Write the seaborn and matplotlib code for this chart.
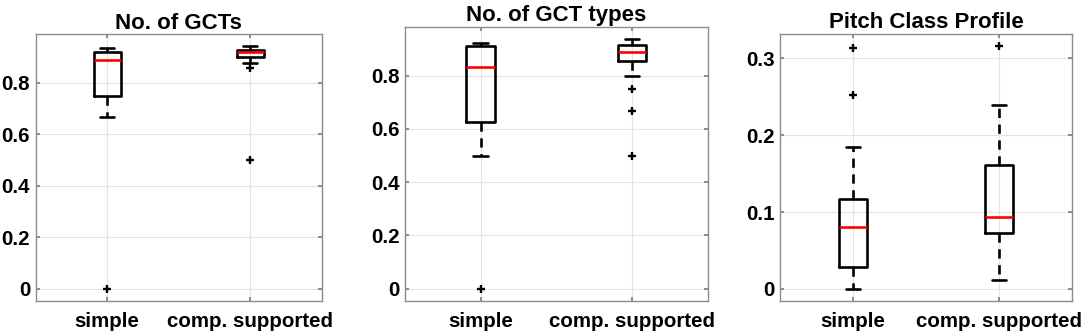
import numpy as np
import pandas as pd
import matplotlib
matplotlib.use('Agg')
import matplotlib.pyplot as plt
import seaborn as sns
from matplotlib.ticker import FormatStrFormatter

# Werte (je Gruppe)
gruppen = ['simple', 'comp. supported']
titel = ['No. of GCTs', 'No. of GCT types', 'Pitch Class Profile']

gcts_simple = [0, 0.667, 0.72, 0.75, 0.80, 0.85, 0.889, 0.90, 0.91, 0.919, 0.925, 0.93, 0.935]
gcts_comp = [0.5, 0.856, 0.878, 0.900, 0.905, 0.91, 0.918, 0.92, 0.923, 0.927, 0.93, 0.935, 0.941]

types_simple = [0, 0.5, 0.6, 0.625, 0.7, 0.8, 0.834, 0.86, 0.9, 0.911, 0.917, 0.92, 0.924]
types_comp = [0.5, 0.666, 0.75, 0.8, 0.857, 0.86, 0.87, 0.88, 0.889, 0.9, 0.905, 0.91,
              0.915, 0.92, 0.925, 0.93, 0.9375]

pcp_simple = [0, 0.01, 0.02, 0.028, 0.05, 0.07, 0.081, 0.09, 0.1, 0.1175, 0.185, 0.253, 0.314]
pcp_comp = [0.012, 0.04, 0.06, 0.073, 0.08, 0.09, 0.094, 0.11, 0.13, 0.161, 0.2, 0.24, 0.316]

y_ticks = [[0, 0.2, 0.4, 0.6, 0.8], [0, 0.2, 0.4, 0.6, 0.8], [0, 0.1, 0.2, 0.3]]

sns.set_theme(style='whitegrid')
plt.rcParams['font.family'] = ['Liberation Sans', 'DejaVu Sans']
plt.rcParams['font.weight'] = 'bold'


def makeFrame(simple, comp):
    df = pd.DataFrame({
        'gruppe': [gruppen[0]] * len(simple) + [gruppen[1]] * len(comp),
        'wert': list(simple) + list(comp),
    })
    return df


W, H = 1084, 336
fig = plt.figure(figsize=(W / 100, H / 100), dpi=100)

# Achsen-Rahmen in Pixeln (links, rechts, oben, unten)
rahmen = [(35.7, 321.7, 34.3, 301), (405, 707.7, 26.7, 301), (780, 1072.3, 34, 301)]
daten = [(gcts_simple, gcts_comp), (types_simple, types_comp), (pcp_simple, pcp_comp)]

for i in range(3):
    l, r, t, b = rahmen[i]
    ax = fig.add_axes([l / W, 1 - b / H, (r - l) / W, (b - t) / H])
    df = makeFrame(*daten[i])
    sns.boxplot(data=df, x='gruppe', y='wert', ax=ax, width=0.19, fill=False,
                color='black', linewidth=1.9, whis=1.5,
                whiskerprops=dict(linestyle=(0, (3.5, 2.5))),
                medianprops=dict(color='red', linewidth=1.9),
                flierprops=dict(marker='+', markeredgecolor='black', markersize=6,
                                markeredgewidth=1.7))

    # Achsengrenzen wie MATLAB: 5% Rand um die Daten
    alle = np.array(df['wert'])
    pad = 0.05 * (alle.max() - alle.min())
    ax.set_ylim(alle.min() - pad, alle.max() + pad)
    ax.set_xlim(-0.5, 1.5)
    ax.set_yticks(y_ticks[i])
    ax.yaxis.set_major_formatter(FormatStrFormatter('%g'))

    ax.set_title(titel[i], fontsize=16, fontweight='bold', color='black', pad=4)
    ax.set_xlabel('')
    ax.set_ylabel('')
    ax.grid(True, color='#e3e3e3', linewidth=0.8)
    ax.tick_params(axis='both', direction='in', length=3, color='#808080',
                   top=True, right=True, bottom=True, left=True,
                   labelsize=14.8, labelcolor='black')
    ax.tick_params(axis='y', pad=4)
    ax.tick_params(axis='x', pad=8)
    for lab in ax.get_xticklabels() + ax.get_yticklabels():
        lab.set_fontweight('bold')
    for sp in ax.spines.values():
        sp.set_color('#8c8c8c')
        sp.set_linewidth(1.0)

fig.savefig('out.png', dpi=100)
